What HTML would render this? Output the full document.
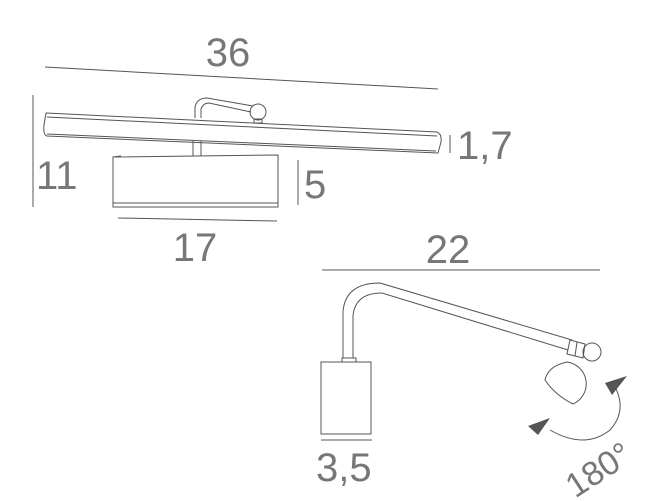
<!DOCTYPE html>
<html><head><style>
html,body{margin:0;padding:0;background:#fff;}
svg{display:block;}
text{font-family:"Liberation Sans",sans-serif;fill:#777;}
</style></head><body>
<svg width="650" height="501" viewBox="0 0 650 501" xmlns="http://www.w3.org/2000/svg">
<g fill="none" stroke="#555" stroke-width="1">
<line x1="45" y1="67" x2="438" y2="89"/>
<path d="M46,113 L437,132 Q442,134 441,142 L438,153 L47,136 Q43,135 44,125 Z"/>
<line x1="47" y1="117" x2="437" y2="136"/>
<line x1="47" y1="134" x2="436" y2="151"/>
<path d="M195,118 L195,107 Q197,98 207,98 L253,106"/>
<path d="M201,118 L201,109 Q203,103 209,103 L251,112"/>
<circle cx="258" cy="112" r="8"/>
<rect x="254" y="119" width="8" height="4"/>
<line x1="193" y1="141" x2="193" y2="156"/>
<line x1="201" y1="141" x2="201" y2="156"/>
<path d="M113,157 L278,155 L278,207 L113,207 Z"/>
<line x1="113" y1="157" x2="121" y2="156"/>
<line x1="113" y1="203" x2="278" y2="203"/>
<line x1="33" y1="95" x2="33" y2="207"/>
<line x1="298" y1="160" x2="298" y2="205"/>
<line x1="450" y1="135" x2="450" y2="153"/>
<line x1="118" y1="218" x2="277" y2="221"/>
<line x1="322" y1="270" x2="600" y2="270"/>
<line x1="321" y1="440" x2="372" y2="440"/>
<rect x="321" y="362" width="50" height="72"/>
<rect x="342" y="358" width="14" height="4"/>
<path d="M343,358 L343,312 Q345,283 380,283 L572,340"/>
<path d="M353,358 L353,316 Q355,293 382,293 L568,350"/>
<path d="M570,340 L585,344 L583,358 L567,354 Z"/>
<line x1="577" y1="342" x2="575" y2="356"/>
<circle cx="592" cy="352" r="9"/>
<path d="M545,380 Q548,366 567,362 A22,22 0 0 1 573,404 Q555,395 545,380 Z"/>
<path d="M614,385 Q628,410 610,430 Q585,450 550,430"/>
</g>
<polygon points="605,383 627,376 612,395" fill="#555"/>
<polygon points="528,426 550,418 538,435" fill="#555"/>
<g font-size="40">
<text x="228" y="66" text-anchor="middle">36</text>
<text x="36" y="189">11</text>
<text x="304" y="198">5</text>
<text x="457" y="159">1,7</text>
<text x="195" y="261" text-anchor="middle">17</text>
<text x="448" y="263" text-anchor="middle">22</text>
<text x="316" y="481">3,5</text>
<text x="596" y="482" text-anchor="middle" transform="rotate(-33 596 466)" font-size="34">180°</text>
</g>
</svg>
</body></html>
